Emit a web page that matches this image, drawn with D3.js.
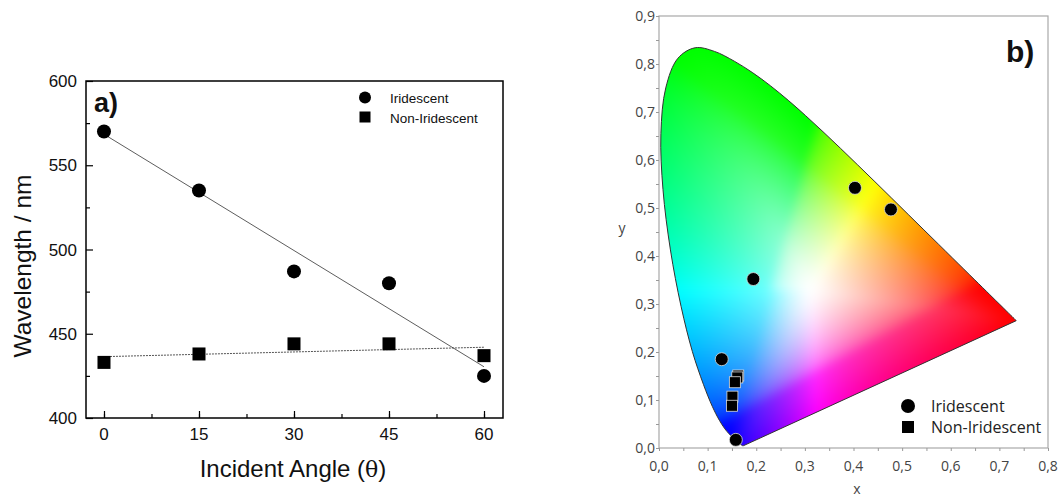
<!DOCTYPE html>
<meta charset="utf-8">
<script src="https://d3js.org/d3.v7.min.js"></script>
<style>
  body { margin: 0; background: #fff; }
  svg { display: block; }
</style>
<div id="chart"></div>
<script>

// ---- panel a) data
const angles = [0, 15, 30, 45, 60];
const iridescentNm = [570, 535, 487, 480, 425];
const nonIridescentNm = [433, 438, 444, 444, 437];
const angleTicks = [0, 15, 30, 45, 60];
const wavelengthTicks = [400, 450, 500, 550, 600];

// ---- panel b) data (CIE 1931 x,y)
const cieIridescent = [[0.403, 0.542], [0.477, 0.497], [0.194, 0.352], [0.129, 0.185], [0.158, 0.017]];
const cieNonIridescent = [[0.163, 0.151], [0.161, 0.147], [0.156, 0.137], [0.151, 0.107], [0.150, 0.088]];
const cieXTicks = [0, 0.1, 0.2, 0.3, 0.4, 0.5, 0.6, 0.7, 0.8];
const cieYTicks = [0, 0.1, 0.2, 0.3, 0.4, 0.5, 0.6, 0.7, 0.8, 0.9];
const whitePoint = [0.3127, 0.329];
// spectral locus 380..700 nm, 5 nm steps
const spectralLocus = [
  [0.1741,0.0050],[0.1740,0.0050],[0.1738,0.0049],[0.1736,0.0049],[0.1733,0.0048],[0.1730,0.0048],
  [0.1726,0.0048],[0.1721,0.0048],[0.1714,0.0051],[0.1703,0.0058],[0.1689,0.0069],[0.1669,0.0086],
  [0.1644,0.0109],[0.1611,0.0138],[0.1566,0.0177],[0.1510,0.0227],[0.1440,0.0297],[0.1355,0.0399],
  [0.1241,0.0578],[0.1096,0.0868],[0.0913,0.1327],[0.0687,0.2007],[0.0454,0.2950],[0.0235,0.4127],
  [0.0082,0.5384],[0.0039,0.6548],[0.0139,0.7502],[0.0389,0.8120],[0.0743,0.8338],[0.1142,0.8262],
  [0.1547,0.8059],[0.1929,0.7816],[0.2296,0.7543],[0.2658,0.7243],[0.3016,0.6923],[0.3373,0.6589],
  [0.3731,0.6245],[0.4087,0.5896],[0.4441,0.5547],[0.4788,0.5202],[0.5125,0.4866],[0.5448,0.4544],
  [0.5752,0.4242],[0.6029,0.3965],[0.6270,0.3725],[0.6482,0.3514],[0.6658,0.3340],[0.6801,0.3197],
  [0.6915,0.3083],[0.7006,0.2993],[0.7079,0.2920],[0.7140,0.2859],[0.7190,0.2809],[0.7230,0.2770],
  [0.7260,0.2740],[0.7283,0.2717],[0.7300,0.2700],[0.7311,0.2689],[0.7320,0.2680],[0.7327,0.2673],
  [0.7334,0.2666],[0.7340,0.2660],[0.7344,0.2656],[0.7346,0.2654],[0.7347,0.2653]
];

const W = 1062, H = 497;
const svg = d3.select("#chart").append("svg").attr("width", W).attr("height", H);

// =================== panel a) ===================
const ax = {left: 86, right: 503, top: 81, bottom: 418};
const xA = d3.scaleLinear().domain([-2.84, 63]).range([ax.left, ax.right]);
const yA = d3.scaleLinear().domain([400, 600]).range([ax.bottom, ax.top]);
const gA = svg.append("g").style("font-family", "Liberation Sans, Arial, sans-serif");

gA.append("rect").attr("x", ax.left).attr("y", ax.top)
  .attr("width", ax.right - ax.left).attr("height", ax.bottom - ax.top)
  .attr("fill", "none").attr("stroke", "#000").attr("stroke-width", 1.5);

// inward ticks
gA.append("g").attr("transform", `translate(0,${ax.bottom})`)
  .call(d3.axisTop(xA).tickValues(d3.range(0, 61, 7.5)).tickSize(4).tickFormat(""))
  .call(g => g.select(".domain").remove());
gA.append("g").attr("transform", `translate(0,${ax.bottom})`)
  .call(d3.axisTop(xA).tickValues(angleTicks).tickSize(7).tickFormat(""))
  .call(g => g.select(".domain").remove());
gA.append("g").attr("transform", `translate(${ax.left},0)`)
  .call(d3.axisRight(yA).tickValues(d3.range(425, 600, 50)).tickSize(4).tickFormat(""))
  .call(g => g.select(".domain").remove());
gA.append("g").attr("transform", `translate(${ax.left},0)`)
  .call(d3.axisRight(yA).tickValues(wavelengthTicks).tickSize(7).tickFormat(""))
  .call(g => g.select(".domain").remove());
gA.selectAll(".tick line").attr("stroke", "#000").attr("stroke-width", 1.2);

gA.selectAll(".xlab").data(angleTicks).join("text")
  .attr("x", d => xA(d)).attr("y", 440).attr("text-anchor", "middle")
  .attr("font-size", 17).attr("fill", "#111").text(d => d);
gA.selectAll(".ylab").data(wavelengthTicks).join("text")
  .attr("x", 77).attr("y", d => yA(d) + 6).attr("text-anchor", "end")
  .attr("font-size", 17).attr("fill", "#111").text(d => d);

const xt = gA.append("text").attr("x", 293).attr("y", 477).attr("text-anchor", "middle")
  .attr("font-size", 24).attr("fill", "#111");
xt.append("tspan").text("Incident Angle (");
xt.append("tspan").attr("font-family", "DejaVu Serif, serif").attr("font-size", 22).text("θ");
xt.append("tspan").text(")");
gA.append("text").attr("transform", "translate(31,266) rotate(-90)").attr("text-anchor", "middle")
  .attr("font-size", 24.5).attr("fill", "#111").text("Wavelength / nm");
gA.append("text").attr("x", 94).attr("y", 112).attr("font-size", 27).attr("font-weight", "bold")
  .attr("fill", "#111").text("a)");

// least-squares fit lines
function fit(xs, ys) {
  const mx = d3.mean(xs), my = d3.mean(ys);
  const b = d3.sum(xs, (x, i) => (x - mx) * (ys[i] - my)) / d3.sum(xs, x => (x - mx) ** 2);
  return x => my + b * (x - mx);
}
const fI = fit(angles, iridescentNm), fN = fit(angles, nonIridescentNm);
const ends = [angles[0], angles[angles.length - 1]];
const line = d3.line().x(d => xA(d[0])).y(d => yA(d[1]));
gA.append("path").attr("d", line(ends.map(a => [a, fN(a)])))
  .attr("stroke", "#555").attr("stroke-width", 1).attr("stroke-dasharray", "2,1").attr("fill", "none");
gA.append("path").attr("d", line(ends.map(a => [a, fI(a)])))
  .attr("stroke", "#333").attr("stroke-width", 0.8).attr("fill", "none");

gA.selectAll(".ci").data(angles).join("circle")
  .attr("cx", d => xA(d)).attr("cy", (d, i) => yA(iridescentNm[i])).attr("r", 7).attr("fill", "#000");
gA.selectAll(".sq").data(angles).join("rect")
  .attr("x", d => xA(d) - 6.5).attr("y", (d, i) => yA(nonIridescentNm[i]) - 6.5)
  .attr("width", 13).attr("height", 13).attr("fill", "#000");

// legend a)
gA.append("circle").attr("cx", 365).attr("cy", 97.5).attr("r", 6).attr("fill", "#000");
gA.append("rect").attr("x", 359.5).attr("y", 111.5).attr("width", 11).attr("height", 11).attr("fill", "#000");
gA.append("text").attr("x", 390).attr("y", 102.5).attr("font-size", 13.5).attr("fill", "#111").text("Iridescent");
gA.append("text").attr("x", 390).attr("y", 122.5).attr("font-size", 13.5).attr("fill", "#111").text("Non-Iridescent");

// =================== panel b) ===================
const bx = {left: 659, right: 1048, top: 16, bottom: 448};
const xB = d3.scaleLinear().domain([0, 0.8]).range([bx.left, bx.right]);
const yB = d3.scaleLinear().domain([0, 0.9]).range([bx.bottom, bx.top]);
const gB = svg.append("g").style("font-family", "Open Sans, sans-serif");

// --- chromaticity fill: clipped sRGB colour, faded toward white by distance from the white point
const gam = v => v <= 0.0031308 ? 12.92 * v : 1.055 * Math.pow(v, 1 / 2.4) - 0.055;
function clipColor(cx, cy) {
  cy = Math.max(cy, 0.002);
  const X = cx / cy, Y = 1, Z = (1 - cx - cy) / cy;
  let r = Math.max(0, 3.2406 * X - 1.5372 * Y - 0.4986 * Z);
  let g = Math.max(0, -0.9689 * X + 1.8758 * Y + 0.0415 * Z);
  let b = Math.max(0, 0.0557 * X - 0.2040 * Y + 1.0570 * Z);
  const m = Math.max(r, g, b) || 1;
  r /= m; g /= m; b /= m;
  if (b >= r && b >= g) r = Math.pow(r, 2);   // keep the blue corner blue rather than violet
  return [gam(r), gam(g), gam(Math.pow(b, 1.4))];
}
const poly = spectralLocus.concat([spectralLocus[0]]);
const NB = 1440;
const edgeDist = d3.range(NB).map(k => {
  const a = (k / NB) * 2 * Math.PI, dx = Math.cos(a), dy = Math.sin(a);
  let best = Infinity;
  for (let s = 0; s < poly.length - 1; s++) {
    const [x1, y1] = poly[s], [x2, y2] = poly[s + 1];
    const ex = x2 - x1, ey = y2 - y1;
    const den = dx * ey - dy * ex;
    if (Math.abs(den) < 1e-12) continue;
    const wx = x1 - whitePoint[0], wy = y1 - whitePoint[1];
    const t = (wx * ey - wy * ex) / den, u = (wx * dy - wy * dx) / den;
    if (t > 0 && u >= 0 && u <= 1 && t < best) best = t;
  }
  return best;
});

const pad = 20;
const cw = bx.right - bx.left, ch = bx.bottom - bx.top;
const raw = document.createElement("canvas");
raw.width = cw + 2 * pad; raw.height = ch + 2 * pad;
const rctx = raw.getContext("2d");
const img = rctx.createImageData(raw.width, raw.height);
for (let j = 0; j < raw.height; j++) {
  const cy = yB.invert(bx.top - pad + j + 0.5);
  for (let i = 0; i < raw.width; i++) {
    const cx = xB.invert(bx.left - pad + i + 0.5);
    const dx = cx - whitePoint[0], dy = cy - whitePoint[1];
    let a = Math.atan2(dy, dx); if (a < 0) a += 2 * Math.PI;
    const f = a / (2 * Math.PI) * NB, k0 = Math.floor(f) % NB, w = f - Math.floor(f);
    const dist = edgeDist[k0] * (1 - w) + edgeDist[(k0 + 1) % NB] * w;
    const t = Math.min(1, Math.hypot(dx, dy) / dist);
    const s = Math.pow(t, 0.5);
    const col = clipColor(cx, cy);
    const k = (j * raw.width + i) * 4;
    for (let c = 0; c < 3; c++) img.data[k + c] = 255 * (1 - s + s * col[c]);
    img.data[k + 3] = 255;
  }
}
rctx.putImageData(img, 0, 0);
// soften the creases of the clipping
const soft = document.createElement("canvas");
soft.width = raw.width; soft.height = raw.height;
const sctx = soft.getContext("2d");
sctx.filter = "blur(5px)";
sctx.drawImage(raw, 0, 0);

const locusPath = d3.line().x(d => xB(d[0])).y(d => yB(d[1])).curve(d3.curveCatmullRom)(spectralLocus) + "Z";
svg.append("defs").append("clipPath").attr("id", "locus").append("path").attr("d", locusPath);
gB.append("image").attr("href", soft.toDataURL()).attr("x", bx.left - pad).attr("y", bx.top - pad)
  .attr("width", raw.width).attr("height", raw.height).attr("clip-path", "url(#locus)");
gB.append("path").attr("d", locusPath).attr("fill", "none").attr("stroke", "#333").attr("stroke-width", 1);

gB.append("rect").attr("x", bx.left).attr("y", bx.top).attr("width", cw).attr("height", ch)
  .attr("fill", "none").attr("stroke", "#a8a8a8").attr("stroke-width", 1.2);
gB.append("g").attr("transform", `translate(0,${bx.bottom})`)
  .call(d3.axisBottom(xB).tickValues(d3.range(0, 0.81, 0.05)).tickSize(3).tickFormat(""))
  .call(g => g.select(".domain").remove());
gB.append("g").attr("transform", `translate(${bx.left},0)`)
  .call(d3.axisLeft(yB).tickValues(d3.range(0, 0.91, 0.05)).tickSize(3).tickFormat(""))
  .call(g => g.select(".domain").remove());
gB.selectAll(".tick line").attr("stroke", "#999");

const fmt = d => d3.format(".1f")(d).replace(".", ",");
gB.selectAll(".bx").data(cieXTicks).join("text")
  .attr("x", d => xB(d)).attr("y", 471).attr("text-anchor", "middle")
  .attr("font-size", 14).attr("fill", "#444").text(fmt);
gB.selectAll(".by").data(cieYTicks).join("text")
  .attr("x", 655).attr("y", d => yB(d) + 5).attr("text-anchor", "end")
  .attr("font-size", 14).attr("fill", "#444").text(fmt);
gB.append("text").attr("x", 857).attr("y", 494).attr("text-anchor", "middle")
  .attr("font-size", 14).attr("fill", "#444").text("x");
gB.append("text").attr("x", 622).attr("y", 233).attr("text-anchor", "middle")
  .attr("font-size", 14).attr("fill", "#444").text("y");
gB.append("text").attr("x", 1006).attr("y", 62).attr("font-size", 30).attr("font-weight", "bold")
  .style("font-family", "Liberation Sans, Arial, sans-serif").attr("fill", "#111").text("b)");

gB.selectAll(".pc").data(cieIridescent).join("circle")
  .attr("cx", d => xB(d[0])).attr("cy", d => yB(d[1])).attr("r", 6.5)
  .attr("fill", "#000").attr("stroke", "#ddd").attr("stroke-width", 0.8);
gB.selectAll(".ps").data(cieNonIridescent).join("rect")
  .attr("x", d => xB(d[0]) - 5.5).attr("y", d => yB(d[1]) - 5.5).attr("width", 11).attr("height", 11)
  .attr("fill", "#000").attr("stroke", "#ddd").attr("stroke-width", 0.8);

// legend b)
gB.append("circle").attr("cx", 908).attr("cy", 406).attr("r", 7).attr("fill", "#000");
gB.append("rect").attr("x", 902).attr("y", 421).attr("width", 12).attr("height", 12).attr("fill", "#000");
gB.append("text").attr("x", 931).attr("y", 412).attr("font-size", 16).attr("fill", "#222").text("Iridescent");
gB.append("text").attr("x", 931).attr("y", 433).attr("font-size", 16).attr("fill", "#222").text("Non-Iridescent");

</script>
